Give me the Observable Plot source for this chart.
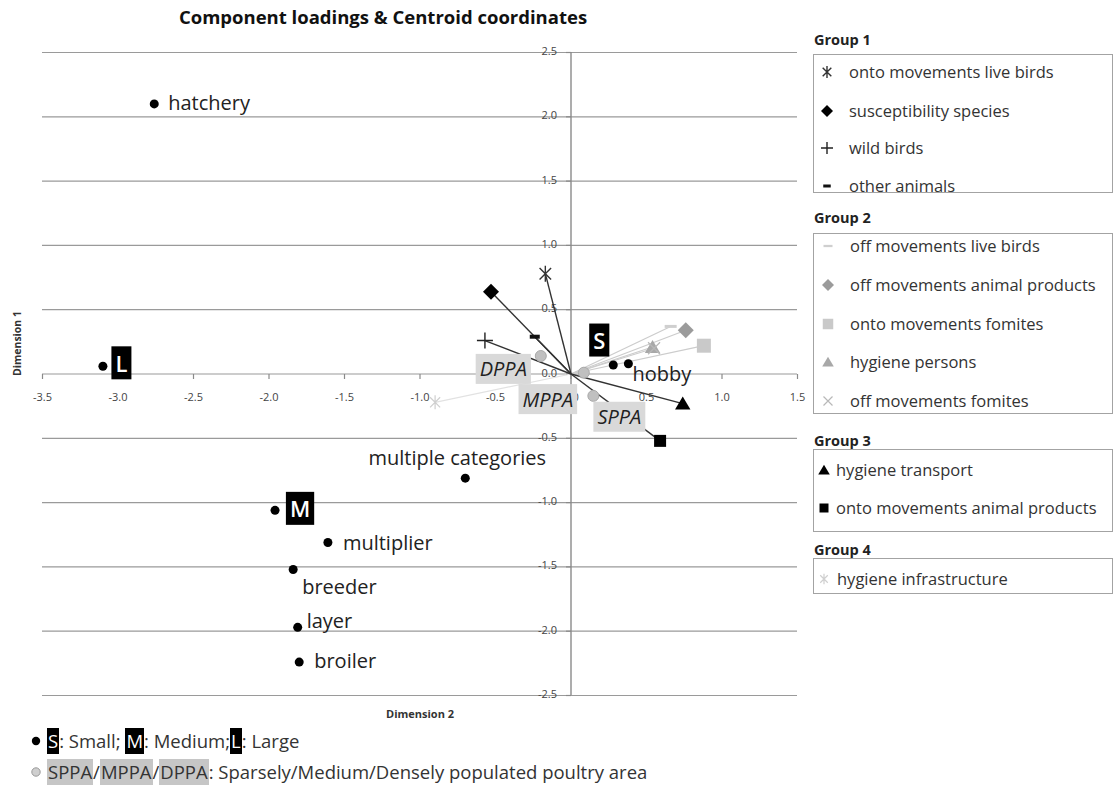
<!DOCTYPE html>
<html>
<head>
<meta charset="utf-8">
<script src="https://cdn.jsdelivr.net/npm/d3@7"></script>
<script src="https://cdn.jsdelivr.net/npm/@observablehq/plot@0.6"></script>
<style>
  body { margin: 0; background: #fff; font-family: "Open Sans", sans-serif; color: #333; }
  #root { position: relative; width: 1114px; height: 789px; overflow: hidden; background: #fff; }
  #title { position: absolute; left: 0; width: 766px; top: 4px; text-align: center; font-weight: bold; font-size: 18.5px; color: #111; line-height: 26px; }
  #plot { position: absolute; left: 0; top: 40px; }
  .gtitle { position: absolute; left: 814px; font-weight: bold; font-size: 14.5px; color: #222; line-height: 18px; }
  .gbox { position: absolute; left: 813px; width: 298px; border: 1px solid #a3a3a3; overflow: hidden; background: #fff; }
  .item { position: absolute; left: 0; height: 24px; white-space: nowrap; font-size: 16.5px; color: #333; line-height: 24px; }
  .item svg { position: absolute; top: 0; }
  .item span { position: absolute; top: 0; }
  .brow { position: absolute; left: 28px; height: 26px; white-space: nowrap; font-size: 18.5px; line-height: 26px; color: #333; }
  .brow .k { display: inline-block; padding: 0 1px; }
  .brow .kb { background: #000; color: #fff; }
  .brow .kg { background: #c6c6c6; color: #333; }
</style>
</head>
<body>
<div id="root">
  <div id="title">Component loadings &amp; Centroid coordinates</div>
  <div id="plot"></div>
</div>
<script>
// ---------- data ----------
const xTicks = [-3.5, -3.0, -2.5, -2.0, -1.5, -1.0, -0.5, 0.0, 0.5, 1.0, 1.5];
const yTicks = [-2.5, -2.0, -1.5, -1.0, -0.5, 0.0, 0.5, 1.0, 1.5, 2.0, 2.5];
const xTickLabels = ["-3.5", "-3.0", "-2.5", "-2.0", "-1.5", "-1.0", "-0.5", "0.0", "0.5", "1.0", "1.5"];
const yTickLabels = ["-2.5", "-2.0", "-1.5", "-1.0", "-0.5", "0.0", "0.5", "1.0", "1.5", "2.0", "2.5"];

const loadingNames = [
  "onto movements live birds", "susceptibility species", "wild birds", "other animals",
  "off movements live birds", "off movements animal products", "onto movements fomites", "hygiene persons", "off movements fomites",
  "hygiene transport", "onto movements animal products",
  "hygiene infrastructure"
];
const loadingGroups = [1, 1, 1, 1, 2, 2, 2, 2, 2, 3, 3, 4];
const loadingX = [-0.17, -0.53, -0.57, -0.24, 0.66, 0.76, 0.88, 0.54, 0.55, 0.74, 0.59, -0.90];
const loadingY = [0.78, 0.64, 0.26, 0.29, 0.37, 0.34, 0.22, 0.21, 0.20, -0.23, -0.52, -0.22];

const centroidNames = ["hatchery", "L", "M", "multiple categories", "multiplier", "breeder", "layer", "broiler", "S", "hobby"];
const centroidX = [-2.76, -3.10, -1.96, -0.70, -1.61, -1.84, -1.81, -1.80, 0.28, 0.38];
const centroidY = [2.10, 0.06, -1.06, -0.81, -1.31, -1.52, -1.97, -2.24, 0.07, 0.08];

const areaNames = ["DPPA", "MPPA", "SPPA"];
const areaX = [-0.20, 0.085, 0.148];
const areaY = [0.14, 0.01, -0.17];

// ---------- tables ----------
const loadings = loadingNames.map((name, i) => ({name, group: loadingGroups[i], x: loadingX[i], y: loadingY[i]}));
const centroids = centroidNames.map((name, i) => ({name, x: centroidX[i], y: centroidY[i]}));
const areas = areaNames.map((name, i) => ({name, x: areaX[i], y: areaY[i]}));
const xTickData = xTicks.map((v, i) => ({v, label: xTickLabels[i]}));
const yTickData = yTicks.map((v, i) => ({v, label: yTickLabels[i]}));

// ---------- symbols ----------
const mk = draw => ({draw});
const SYM = {
  asterisk: s => mk(c => { const d = s * 0.72; c.moveTo(0, -s); c.lineTo(0, s); c.moveTo(-d, -d); c.lineTo(d, d); c.moveTo(-d, d); c.lineTo(d, -d); }),
  plus: s => mk(c => { c.moveTo(-s, 0); c.lineTo(s, 0); c.moveTo(0, -s); c.lineTo(0, s); }),
  times: s => mk(c => { c.moveTo(-s, -s); c.lineTo(s, s); c.moveTo(-s, s); c.lineTo(s, -s); }),
  dash: (w, h) => mk(c => { c.rect(-w / 2, -h / 2, w, h); }),
  diamond: s => mk(c => { c.moveTo(0, -s); c.lineTo(s, 0); c.lineTo(0, s); c.lineTo(-s, 0); c.closePath(); }),
  square: s => mk(c => { c.rect(-s, -s, 2 * s, 2 * s); }),
  triangle: s => mk(c => { c.moveTo(0, -s); c.lineTo(s * 1.1, s * 0.85); c.lineTo(-s * 1.1, s * 0.85); c.closePath(); })
};

const lstyle = {
  "onto movements live birds":      {sym: k => SYM.asterisk(8 * k), fill: "none", stroke: "#333", sw: 1.4, line: "#333"},
  "susceptibility species":         {sym: k => SYM.diamond(8 * k), fill: "#000", stroke: "none", line: "#333"},
  "wild birds":                     {sym: k => SYM.plus(8 * k), fill: "none", stroke: "#222", sw: 1.4, line: "#333"},
  "other animals":                  {sym: k => SYM.dash(10 * k, 4 * k), fill: "#111", stroke: "none", line: "#333"},
  "off movements live birds":       {sym: k => SYM.dash(12 * k, 3 * k), fill: "#cfcfcf", stroke: "none", line: "#cccccc"},
  "off movements animal products":  {sym: k => SYM.diamond(8 * k), fill: "#9b9b9b", stroke: "none", line: "#cccccc"},
  "onto movements fomites":         {sym: k => SYM.square(7 * k), fill: "#c9c9c9", stroke: "none", line: "#cccccc"},
  "hygiene persons":                {sym: k => SYM.triangle(7 * k), fill: "#a8a8a8", stroke: "none", line: "#cccccc"},
  "off movements fomites":          {sym: k => SYM.times(6 * k), fill: "none", stroke: "#b8b8b8", sw: 1.2, line: "#cccccc"},
  "hygiene transport":              {sym: k => SYM.triangle(7 * k), fill: "#000", stroke: "none", line: "#333"},
  "onto movements animal products": {sym: k => SYM.square(6 * k), fill: "#000", stroke: "none", line: "#333"},
  "hygiene infrastructure":         {sym: k => SYM.asterisk(7 * k), fill: "none", stroke: "#cfcfcf", sw: 1.2, line: "#e2e2e2"}
};

// label placement (offsets in px relative to the point)
const clabel = {
  "hatchery":            {dx: 14, dy: 0, anchor: "start"},
  "L":                   {dx: 18.5, dy: -1.5, box: "black"},
  "M":                   {dx: 25, dy: 0, box: "black"},
  "multiple categories": {dx: -8, dy: -20, anchor: "middle"},
  "multiplier":          {dx: 15, dy: 1, anchor: "start"},
  "breeder":             {dx: 9, dy: 18, anchor: "start"},
  "layer":               {dx: 9, dy: -6, anchor: "start"},
  "broiler":             {dx: 15, dy: 0, anchor: "start"},
  "S":                   {dx: -14, dy: -23, box: "black"},
  "hobby":               {dx: 4, dy: 11, anchor: "start"}
};
const alabel = {
  "DPPA": {dx: -37.5, dy: 14},
  "MPPA": {dx: -36, dy: 27.5},
  "SPPA": {dx: 26, dy: 22}
};

const FONT = "Open Sans";
const BOXED_BLACK_FILL = "#fefefe";  // marker colour for texts drawn on black boxes
const BOXED_GRAY_FILL = "#212121";   // marker colour for texts drawn on gray boxes
const tickLeft = mk(c => { c.moveTo(-5, 0); c.lineTo(0, 0); });
const tickDown = mk(c => { c.moveTo(0, 0); c.lineTo(0, 5); });

// ---------- marks ----------
const marks = [];
marks.push(Plot.ruleY(yTickData, {y: "v", stroke: "#9a9a9a", strokeWidth: 1.2}));
marks.push(Plot.ruleX([0], {y1: -2.5, y2: 2.5, stroke: "#8a8a8a", strokeWidth: 1.4}));
marks.push(Plot.dot(yTickData, {x: 0, y: "v", symbol: tickLeft, stroke: "#8a8a8a", strokeWidth: 1.2, fill: "none"}));
marks.push(Plot.dot(xTickData, {x: "v", y: 0, symbol: tickDown, stroke: "#8a8a8a", strokeWidth: 1.2, fill: "none"}));
marks.push(Plot.text(yTickData, {x: 0, y: "v", text: "label", textAnchor: "end", dx: -14, dy: -1, fontSize: 11, fill: "#444", fontFamily: FONT}));
marks.push(Plot.text(xTickData, {x: "v", y: 0, text: "label", textAnchor: "middle", dy: 23, fontSize: 11, fill: "#444", fontFamily: FONT}));

// loading lines (light ones first)
const lineOrder = loadings.slice().sort((a, b) => (a.group === 2 || a.group === 4 ? 0 : 1) - (b.group === 2 || b.group === 4 ? 0 : 1));
for (const d of lineOrder) {
  const st = lstyle[d.name];
  marks.push(Plot.link([d], {x1: 0, y1: 0, x2: "x", y2: "y", stroke: st.line, strokeWidth: d.group === 1 || d.group === 3 ? 1.4 : 1.2}));
}
// area (PPA) points
marks.push(Plot.dot(areas, {x: "x", y: "y", r: 5.5, fill: "#c0c0c0", stroke: "#a9a9a9", strokeWidth: 1}));
// loading symbols
for (const d of lineOrder) {
  const st = lstyle[d.name];
  marks.push(Plot.dot([d], {x: "x", y: "y", symbol: st.sym(1), fill: st.fill, stroke: st.stroke, strokeWidth: st.sw || 1}));
}
// centroid points
marks.push(Plot.dot(centroids, {x: "x", y: "y", r: 4.5, fill: "#000"}));
// centroid labels
for (const d of centroids) {
  const L = clabel[d.name];
  if (L.box) {
    marks.push(Plot.text([d], {x: "x", y: "y", text: "name", dx: L.dx, dy: L.dy, textAnchor: "middle", fontSize: 22, fontWeight: 600, fill: BOXED_BLACK_FILL, fontFamily: FONT}));
  } else {
    marks.push(Plot.text([d], {x: "x", y: "y", text: "name", dx: L.dx, dy: L.dy, textAnchor: L.anchor, fontSize: 20, fill: "#222", fontFamily: FONT}));
  }
}
for (const d of areas) {
  const L = alabel[d.name];
  marks.push(Plot.text([d], {x: "x", y: "y", text: "name", dx: L.dx, dy: L.dy, textAnchor: "middle", fontSize: 20, fontStyle: "italic", fill: BOXED_GRAY_FILL, fontFamily: FONT}));
}
// axis titles
marks.push(Plot.text(["Dimension 2"], {frameAnchor: "bottom", dy: 22, fontSize: 11, fontWeight: "bold", fill: "#333", fontFamily: FONT}));
marks.push(Plot.text(["Dimension 1"], {frameAnchor: "left", dx: -25, dy: 2, rotate: -90, fontSize: 10.5, fontWeight: "bold", fill: "#333", fontFamily: FONT}));

const chart = Plot.plot({
  width: 800,
  height: 690,
  marginLeft: 42,
  marginRight: 3,
  marginTop: 12,
  marginBottom: 35,
  x: {domain: [-3.5, 1.5], axis: null},
  y: {domain: [-2.5, 2.5], axis: null},
  style: {background: "transparent", fontFamily: FONT, overflow: "visible"},
  marks
});
document.getElementById("plot").appendChild(chart);

// label boxes behind boxed texts
function addBoxes(svg) {
  const specs = [[BOXED_BLACK_FILL, "#000", 4, 1.5], [BOXED_GRAY_FILL, "#d9d9d9", 4, 1.5]];
  const texts = Array.from(svg.querySelectorAll("text"));
  for (const [marker, fill, px, py] of specs) {
    for (const t of texts) {
      const f = (t.getAttribute("fill") || (t.parentNode.getAttribute && t.parentNode.getAttribute("fill")) || "").toLowerCase();
      if (f !== marker) continue;
      const bb = t.getBBox();
      const r = document.createElementNS("http://www.w3.org/2000/svg", "rect");
      r.setAttribute("x", bb.x - px);
      r.setAttribute("y", bb.y - py);
      r.setAttribute("width", bb.width + 2 * px);
      r.setAttribute("height", bb.height + 2 * py);
      r.setAttribute("fill", fill);
      r.setAttribute("stroke", "none");
      const tr = t.getAttribute("transform");
      if (tr) r.setAttribute("transform", tr);
      t.parentNode.insertBefore(r, t);
    }
  }
}
addBoxes(chart);

// ---------- right legend ----------
const root = document.getElementById("root");
const groupsLayout = [
  {g: 1, title: "Group 1", titleY: 31, top: 54, height: 137, rows: [17, 56, 93, 131], symX: 13, textX: 35, k: 0.75},
  {g: 2, title: "Group 2", titleY: 209, top: 233, height: 179, rows: [12, 51, 90, 128, 167], symX: 14, textX: 36, k: 0.75},
  {g: 3, title: "Group 3", titleY: 432, top: 449, height: 81, rows: [20, 58], symX: 10, textX: 22, k: 0.75},
  {g: 4, title: "Group 4", titleY: 541, top: 558, height: 34, rows: [20], symX: 10, textX: 23, k: 0.75}
];
for (const G of groupsLayout) {
  const t = document.createElement("div");
  t.className = "gtitle";
  t.style.top = G.titleY + "px";
  t.textContent = G.title;
  root.appendChild(t);
  const box = document.createElement("div");
  box.className = "gbox";
  box.style.top = G.top + "px";
  box.style.height = G.height + "px";
  root.appendChild(box);
  const items = loadings.filter(d => d.group === G.g);
  items.forEach((d, i) => {
    const st = lstyle[d.name];
    const it = document.createElement("div");
    it.className = "item";
    it.style.top = (G.rows[i] - 12) + "px";
    const svg = d3.create("svg").attr("width", 20).attr("height", 24).style("left", (G.symX - 10) + "px");
    svg.append("path")
      .attr("transform", "translate(10,12)")
      .attr("d", d3.symbol(st.sym(G.k))())
      .attr("fill", st.fill)
      .attr("stroke", st.stroke)
      .attr("stroke-width", st.sw || 1);
    it.appendChild(svg.node());
    const sp = document.createElement("span");
    sp.style.left = G.textX + "px";
    sp.textContent = d.name;
    it.appendChild(sp);
    box.appendChild(it);
  });
}

// ---------- bottom legend ----------
function bottomRow(y, dotFill, dotStroke, parts) {
  const dot = d3.create("svg").attr("width", 14).attr("height", 14)
    .style("position", "absolute").style("left", "29px").style("top", (y - 7) + "px");
  dot.append("circle").attr("cx", 7).attr("cy", 7).attr("r", 4.2).attr("fill", dotFill).attr("stroke", dotStroke);
  root.appendChild(dot.node());
  const row = document.createElement("div");
  row.className = "brow";
  row.style.left = "47px";
  row.style.top = (y - 13) + "px";
  for (const [txt, cls] of parts) {
    const s = document.createElement("span");
    if (cls) s.className = "k " + cls;
    s.textContent = txt;
    row.appendChild(s);
  }
  root.appendChild(row);
}
bottomRow(741, "#000", "none", [["S", "kb"], [": Small; ", null], ["M", "kb"], [": Medium;", null], ["L", "kb"], [": Large", null]]);
bottomRow(772, "#cfcfcf", "#9a9a9a", [["SPPA", "kg"], ["/", null], ["MPPA", "kg"], ["/", null], ["DPPA", "kg"], [": Sparsely/Medium/Densely populated poultry area", null]]);
</script>
</body>
</html>
